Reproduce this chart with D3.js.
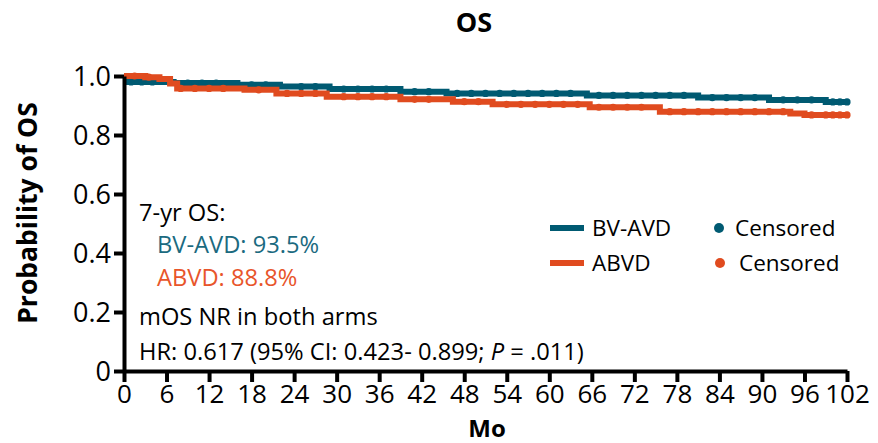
<!DOCTYPE html>
<html>
<head>
<meta charset="utf-8">
<script src="https://cdn.jsdelivr.net/npm/d3@7"></script>
<style>
  body { margin: 0; background: #fff; }
  svg { display: block; font-family: "Open Sans", sans-serif; }
</style>
</head>
<body>
<div id="chart"></div>
<script>
// step times (months) and survival for each arm
var bvTimes = [0, 0.5, 7, 16, 22, 29, 39, 45.5, 65.3, 81, 91, 99, 102];
var bvSurv  = [1.0, 0.98, 0.976, 0.97, 0.964, 0.956, 0.947, 0.941, 0.934, 0.927, 0.919, 0.912, 0.912];
var abTimes = [0, 3, 5, 6.5, 7.5, 17, 21.5, 28.6, 39, 46.4, 52, 65.7, 75.6, 94, 96, 102];
var abSurv  = [1.0, 0.996, 0.99, 0.975, 0.958, 0.953, 0.941, 0.93, 0.921, 0.913, 0.904, 0.894, 0.879, 0.873, 0.868, 0.868];

// censored observations (months)
var bvCensor = [1, 2.5, 4, 9, 11, 13, 18, 20, 25, 27, 31, 33, 35, 37, 41, 43, 47, 49, 51, 53, 55, 57, 59, 61, 63,
                67, 69, 71, 73, 75, 77, 79, 83, 85, 87, 89, 93, 95, 97, 100, 101, 102];
var abCensor = [1.5, 3.5, 8, 10, 12, 14, 19, 23, 25, 27, 31, 33, 35, 37, 41, 43, 48, 50, 54, 56, 58, 60, 62, 64,
                67, 69, 71, 73, 77, 79, 81, 83, 85, 87, 89, 91, 93, 97, 99, 100, 101, 102];

var xTicks = d3.range(0, 103, 6);
var yTicks = [0, 0.2, 0.4, 0.6, 0.8, 1.0];

var teal = "#005a72", orange = "#e04b1f";
var tealText = "#1b6a80", orangeText = "#e8552b";

var W = 878, H = 443;
var svg = d3.select('#chart').append('svg')
    .attr('width', W).attr('height', H);

var x = d3.scaleLinear().domain([0, 102]).range([124, 847]);
var y = d3.scaleLinear().domain([0, 1]).range([371, 76]);

function survAt(times, surv, t) {
    var i = d3.bisectRight(times, t) - 1;
    return surv[Math.max(0, i)];
}

var line = d3.line()
    .x(d => x(d[0]))
    .y(d => y(d[1]))
    .curve(d3.curveStepAfter);

function drawArm(times, surv, censor, color) {
    var pts = times.map((t, i) => [t, surv[i]]);
    svg.append('path')
        .datum(pts)
        .attr('d', line)
        .attr('fill', 'none')
        .attr('stroke', color)
        .attr('stroke-width', 6);
    svg.append('g').selectAll('circle')
        .data(censor)
        .enter().append('circle')
        .attr('cx', d => x(d))
        .attr('cy', d => y(survAt(times, surv, d)))
        .attr('r', 3.6)
        .attr('fill', color);
}

drawArm(bvTimes, bvSurv, bvCensor, teal);
drawArm(abTimes, abSurv, abCensor, orange);

// axes
var yAxis = svg.append('g')
    .attr('transform', 'translate(124,0)')
    .call(d3.axisLeft(y).tickValues(yTicks).tickSize(10).tickSizeOuter(0).tickPadding(3)
        .tickFormat(d => d === 0 ? '0' : d3.format('.1f')(d)));
var xAxis = svg.append('g')
    .attr('transform', 'translate(0,371)')
    .call(d3.axisBottom(x).tickValues(xTicks).tickSize(11).tickSizeOuter(0).tickPadding(3));

[yAxis, xAxis].forEach(function (g) {
    g.select('.domain').attr('stroke', '#000').attr('stroke-width', 4);
    g.selectAll('.tick line').attr('stroke', '#000').attr('stroke-width', 4);
    g.selectAll('.tick text').attr('fill', '#000')
        .style('font-family', '"Open Sans", sans-serif').style('font-size', '27px');
});
xAxis.selectAll('.tick text').style('font-size', '26px');
yAxis.selectAll('.tick text').attr('dy', '0.36em');

// titles
svg.append('text').attr('x', 474).attr('y', 32).attr('text-anchor', 'middle')
    .style('font-size', '27px').style('font-weight', 'bold').text('OS');
svg.append('text').attr('x', 487).attr('y', 437).attr('text-anchor', 'middle')
    .style('font-size', '24px').style('font-weight', 'bold').text('Mo');
svg.append('text').attr('transform', 'translate(37,213) rotate(-90)').attr('text-anchor', 'middle')
    .style('font-size', '26.5px').style('font-weight', 'bold').text('Probability of OS');

// annotation block
var notes = [
    {t: '7-yr OS:', x: 139, y: 221, c: '#000'},
    {t: 'BV-AVD: 93.5%', x: 157, y: 253, c: tealText},
    {t: 'ABVD: 88.8%', x: 157, y: 286, c: orangeText},
    {t: 'mOS NR in both arms', x: 139, y: 325, c: '#000'}
];
svg.selectAll('.note').data(notes).enter().append('text')
    .attr('class', 'note')
    .attr('x', d => d.x).attr('y', d => d.y)
    .attr('fill', d => d.c)
    .style('font-size', '23.7px')
    .text(d => d.t);
var hr = svg.append('text').attr('x', 139).attr('y', 360).style('font-size', '23.7px');
hr.append('tspan').text('HR: 0.617 (95% CI: 0.423- 0.899; ');
hr.append('tspan').style('font-style', 'italic').text('P');
hr.append('tspan').text(' = .011)');

// legend
var legend = [
    {name: 'BV-AVD', c: teal, y: 228, cx: 719, tx: 735},
    {name: 'ABVD', c: orange, y: 263, cx: 720, tx: 739}
];
var lg = svg.append('g');
legend.forEach(function (d) {
    lg.append('line').attr('x1', 550).attr('x2', 584).attr('y1', d.y).attr('y2', d.y)
        .attr('stroke', d.c).attr('stroke-width', 6);
    lg.append('text').attr('x', 592).attr('y', d.y + 8).style('font-size', '22.5px').text(d.name);
    lg.append('circle').attr('cx', d.cx).attr('cy', d.y).attr('r', 5).attr('fill', d.c);
    lg.append('text').attr('x', d.tx).attr('y', d.y + 8).style('font-size', '22.5px').text('Censored');
});
</script>
</body>
</html>
